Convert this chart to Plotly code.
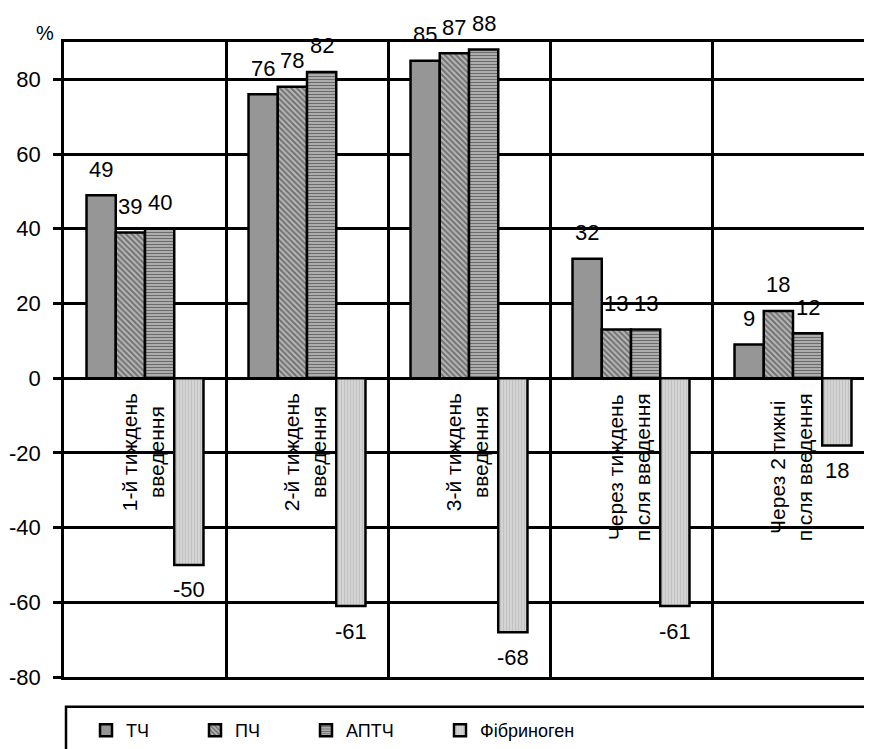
import plotly.graph_objects as go

categories = ["1-й тиждень<br>введення", "2-й тиждень<br>введення", "3-й тиждень<br>введення",
              "Через тиждень<br>після введення", "Через 2 тижні<br>після введення"]
series_names = ["ТЧ", "ПЧ", "АПТЧ", "Фібриноген"]
tch = [49, 76, 85, 32, 9]
pch = [39, 78, 87, 13, 18]
aptch = [40, 82, 88, 13, 12]
fibr = [-50, -61, -68, -61, -18]
fibr_labels = ["-50", "-61", "-68", "-61", "18"]
y_ticks = [-80, -60, -40, -20, 0, 20, 40, 60, 80]
y_tick_labels = [str(v) for v in y_ticks]

OFF = 8  # default page body margin
W, H = 872 - OFF, 749 - OFF
ML, MT = 64 - OFF, 42 - OFF
MB = H - (680 - OFF)
FONT = "Liberation Sans, Arial, sans-serif"
LW = 2.5

xs = list(range(len(categories)))
series = [tch, pch, aptch, fibr]
styles = [
    dict(color="#969696", pattern=dict(shape="")),
    dict(color="#a0a0a0", pattern=dict(shape="\\", bgcolor="#b8b8b8", fgcolor="#2a2a2a", size=4, solidity=0.5)),
    dict(color="#808080", pattern=dict(shape="-", bgcolor="#cccccc", fgcolor="#0a0a0a", size=3, solidity=0.55)),
    dict(color="#c8c8c8", pattern=dict(shape="|", bgcolor="#dadada", fgcolor="#a8a8a8", size=3, solidity=0.5)),
]
legend_widths = [64, 66, 89, 100]

fig = go.Figure()
for name, vals, st, lw in zip(series_names, series, styles, legend_widths):
    fig.add_trace(go.Bar(
        x=xs, y=vals, name=name,
        marker=dict(color=st["color"], pattern=st["pattern"], line=dict(color="black", width=LW)),
        legendwidth=lw,
    ))

plot_w = W - ML
plot_h = H - MT - MB
x_range = [-0.5, -0.5 + plot_w / 162.0]
cat_px = plot_w / (x_range[1] - x_range[0])
bargap = 0.278
bar_px = cat_px * (1 - bargap) / 4

annotations = []
label_sets = [[str(v) for v in tch], [str(v) for v in pch], [str(v) for v in aptch], fibr_labels]
for si, (vals, labs) in enumerate(zip(series, label_sets)):
    for xi, (v, lab) in enumerate(zip(vals, labs)):
        annotations.append(dict(
            x=xi, y=v, xref="x", yref="y", text=lab, showarrow=False,
            xshift=(si - 1.5) * bar_px, yshift=26 if v >= 0 else -25,
            xanchor="center", yanchor="middle",
            font=dict(family=FONT, size=22, color="black"),
        ))
for xi, c in enumerate(categories):
    annotations.append(dict(
        x=xi, y=0, xref="x", yref="y", text=c, showarrow=False, textangle=-90,
        xanchor="center", yanchor="top", yshift=-13, xshift=-2,
        font=dict(family=FONT, size=21, color="black"),
    ))
annotations.append(dict(
    x=0, y=1, xref="paper", yref="paper", text="%", showarrow=False,
    xanchor="right", yanchor="bottom", xshift=-8, yshift=-4,
    font=dict(family=FONT, size=20, color="black"),
))


def py(page_pix):
    fig_pix = page_pix - OFF
    return (H - MB - fig_pix) / plot_h


def px(page_pix):
    return (page_pix - OFF - ML) / plot_w


fig.update_layout(
    width=W, height=H,
    margin=dict(l=ML, r=0, t=MT, b=MB, pad=0),
    paper_bgcolor="white", plot_bgcolor="white",
    barmode="group", bargap=bargap, bargroupgap=0,
    font=dict(family=FONT, size=20, color="black"),
    showlegend=True,
    legend=dict(
        orientation="h", x=px(86), xanchor="left",
        y=py(734), yanchor="middle",
        bgcolor="rgba(0,0,0,0)", borderwidth=0,
        font=dict(family=FONT, size=18, color="black"),
        traceorder="normal",
    ),
    annotations=annotations,
    shapes=[dict(
        type="rect", xref="paper", yref="paper",
        x0=px(66), x1=1.05, y0=py(710), y1=py(765),
        line=dict(color="black", width=LW), fillcolor="rgba(0,0,0,0)", layer="below",
    )],
)
fig.update_xaxes(
    type="linear", range=x_range, tick0=0.5, dtick=1,
    showgrid=True, gridcolor="black", gridwidth=LW,
    showticklabels=False, ticks="", showline=True, linecolor="black", linewidth=LW, mirror=True,
    zeroline=False, fixedrange=True,
)
fig.update_yaxes(
    range=[-80, 90], tickvals=y_ticks, ticktext=y_tick_labels,
    showgrid=True, gridcolor="black", gridwidth=LW,
    zeroline=True, zerolinecolor="black", zerolinewidth=LW,
    showline=True, linecolor="black", linewidth=LW, mirror=False,
    ticks="outside", ticklen=8, tickwidth=LW, tickcolor="black",
    ticklabelstandoff=8,
    tickfont=dict(family=FONT, size=22, color="black"),
)

fig.write_html("out.html")
